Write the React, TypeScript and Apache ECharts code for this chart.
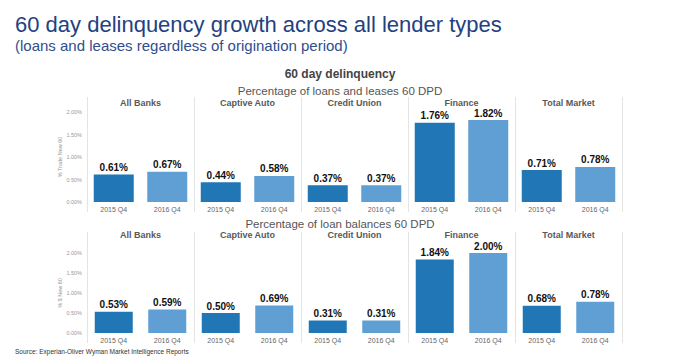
import React, { useEffect, useRef } from "react";
import * as echarts from "echarts";

const lenders = ["All Banks", "Captive Auto", "Credit Union", "Finance", "Total Market"];
const periods = ["2015 Q4", "2016 Q4"];
const loansLeases2015 = [0.61, 0.44, 0.37, 1.76, 0.71];
const loansLeases2016 = [0.67, 0.58, 0.37, 1.82, 0.78];
const balances2015 = [0.53, 0.5, 0.31, 1.84, 0.68];
const balances2016 = [0.59, 0.69, 0.31, 2.0, 0.78];
const yMin = 0;
const yMax = 2;
const yInterval = 0.5;

const mainTitle = "60 day delinquency growth across all lender types";
const subTitle = "(loans and leases regardless of origination period)";
const chartTitle = "60 day delinquency";
const rowTitles = ["Percentage of loans and leases 60 DPD", "Percentage of loan balances 60 DPD"];
const rowAxisNames = ["% Trade New 60", "% $ New 60"];
const sourceText = "Source: Experian-Oliver Wyman Market Intelligence Reports";

const COLOR_2015 = "#2176b5";
const COLOR_2016 = "#5f9fd3";
const FONT = "'Liberation Sans', Arial, sans-serif";

export default function App() {
  const ref = useRef<HTMLDivElement>(null);
  useEffect(() => {
    document.body.style.margin = "0";
    const chart = echarts.init(ref.current!, null, { renderer: "svg" });

    const panelLeft0 = 87;
    const panelW = 107;
    const rows = [
      { top: 112, height: 90, titleY: 91, headerY: 102.5, lineTop: 97, lineBottom: 212, barWidth: 40, a: loansLeases2015, b: loansLeases2016 },
      { top: 253, height: 80, titleY: 223.5, headerY: 235, lineTop: 232, lineBottom: 343, barWidth: 38, a: balances2015, b: balances2016 },
    ];

    const grid: any[] = [];
    const xAxis: any[] = [];
    const yAxis: any[] = [];
    const series: any[] = [];
    const graphic: any[] = [];

    rows.forEach((row, r) => {
      graphic.push({
        type: "text",
        x: 340,
        y: row.titleY,
        style: { text: rowTitles[r], font: `11.5px ${FONT}`, fill: "#555", align: "center", verticalAlign: "middle" },
      });
      for (let i = 0; i <= lenders.length; i++) {
        graphic.push({
          type: "line",
          shape: { x1: panelLeft0 + i * panelW + 0.5, y1: row.lineTop, x2: panelLeft0 + i * panelW + 0.5, y2: row.lineBottom },
          style: { stroke: "#e4e4e4", lineWidth: 1 },
        });
      }
      lenders.forEach((name, i) => {
        const idx = grid.length;
        grid.push({ left: panelLeft0 + i * panelW, width: panelW, top: row.top, height: row.height, containLabel: false });
        graphic.push({
          type: "text",
          x: panelLeft0 + i * panelW + panelW / 2,
          y: row.headerY,
          style: { text: name, font: `bold 9px ${FONT}`, fill: "#595959", align: "center", verticalAlign: "middle" },
        });
        xAxis.push({
          type: "category",
          gridIndex: idx,
          data: periods,
          axisLine: { show: false },
          axisTick: { show: false },
          axisLabel: { color: "#666", fontSize: 7, fontFamily: FONT, margin: 4 },
        });
        yAxis.push({
          type: "value",
          gridIndex: idx,
          min: yMin,
          max: yMax,
          interval: yInterval,
          splitLine: { show: false },
          axisLine: { show: false },
          axisTick: { show: false },
          axisLabel: {
            show: i === 0,
            color: "#999",
            fontSize: 5.5,
            fontFamily: FONT,
            margin: 5,
            formatter: (v: number) => v.toFixed(2) + "%",
          },
          name: i === 0 ? rowAxisNames[r] : "",
          nameLocation: "middle",
          nameRotate: 90,
          nameGap: 21,
          nameTextStyle: { color: "#999", fontSize: 5.5, fontFamily: FONT },
        });
        series.push({
          type: "bar",
          xAxisIndex: idx,
          yAxisIndex: idx,
          barWidth: row.barWidth,
          data: [
            { value: row.a[i], itemStyle: { color: COLOR_2015 } },
            { value: row.b[i], itemStyle: { color: COLOR_2016 } },
          ],
          label: {
            show: true,
            position: "top",
            distance: 2,
            color: "#111",
            fontSize: 10,
            fontWeight: "bold",
            fontFamily: FONT,
            formatter: (p: any) => Number(p.value).toFixed(2) + "%",
          },
        });
      });
    });

    graphic.push(
      {
        type: "text",
        x: 15,
        y: 24,
        style: { text: mainTitle, font: `22px ${FONT}`, fill: "#24417f", align: "left", verticalAlign: "middle" },
      },
      {
        type: "text",
        x: 15,
        y: 45,
        style: { text: subTitle, font: `15px ${FONT}`, fill: "#2f4e8c", align: "left", verticalAlign: "middle" },
      },
      {
        type: "text",
        x: 340,
        y: 73.5,
        style: { text: chartTitle, font: `bold 12px ${FONT}`, fill: "#444", align: "center", verticalAlign: "middle" },
      },
      {
        type: "text",
        x: 15,
        y: 351,
        style: { text: sourceText, font: `6.5px ${FONT}`, fill: "#333", align: "left", verticalAlign: "middle" },
      }
    );

    chart.setOption({
      animation: false,
      backgroundColor: "#ffffff",
      grid,
      xAxis,
      yAxis,
      series,
      graphic,
    });
    return () => chart.dispose();
  }, []);
  return <div ref={ref} style={{ width: 684, height: 359 }} />;
}
